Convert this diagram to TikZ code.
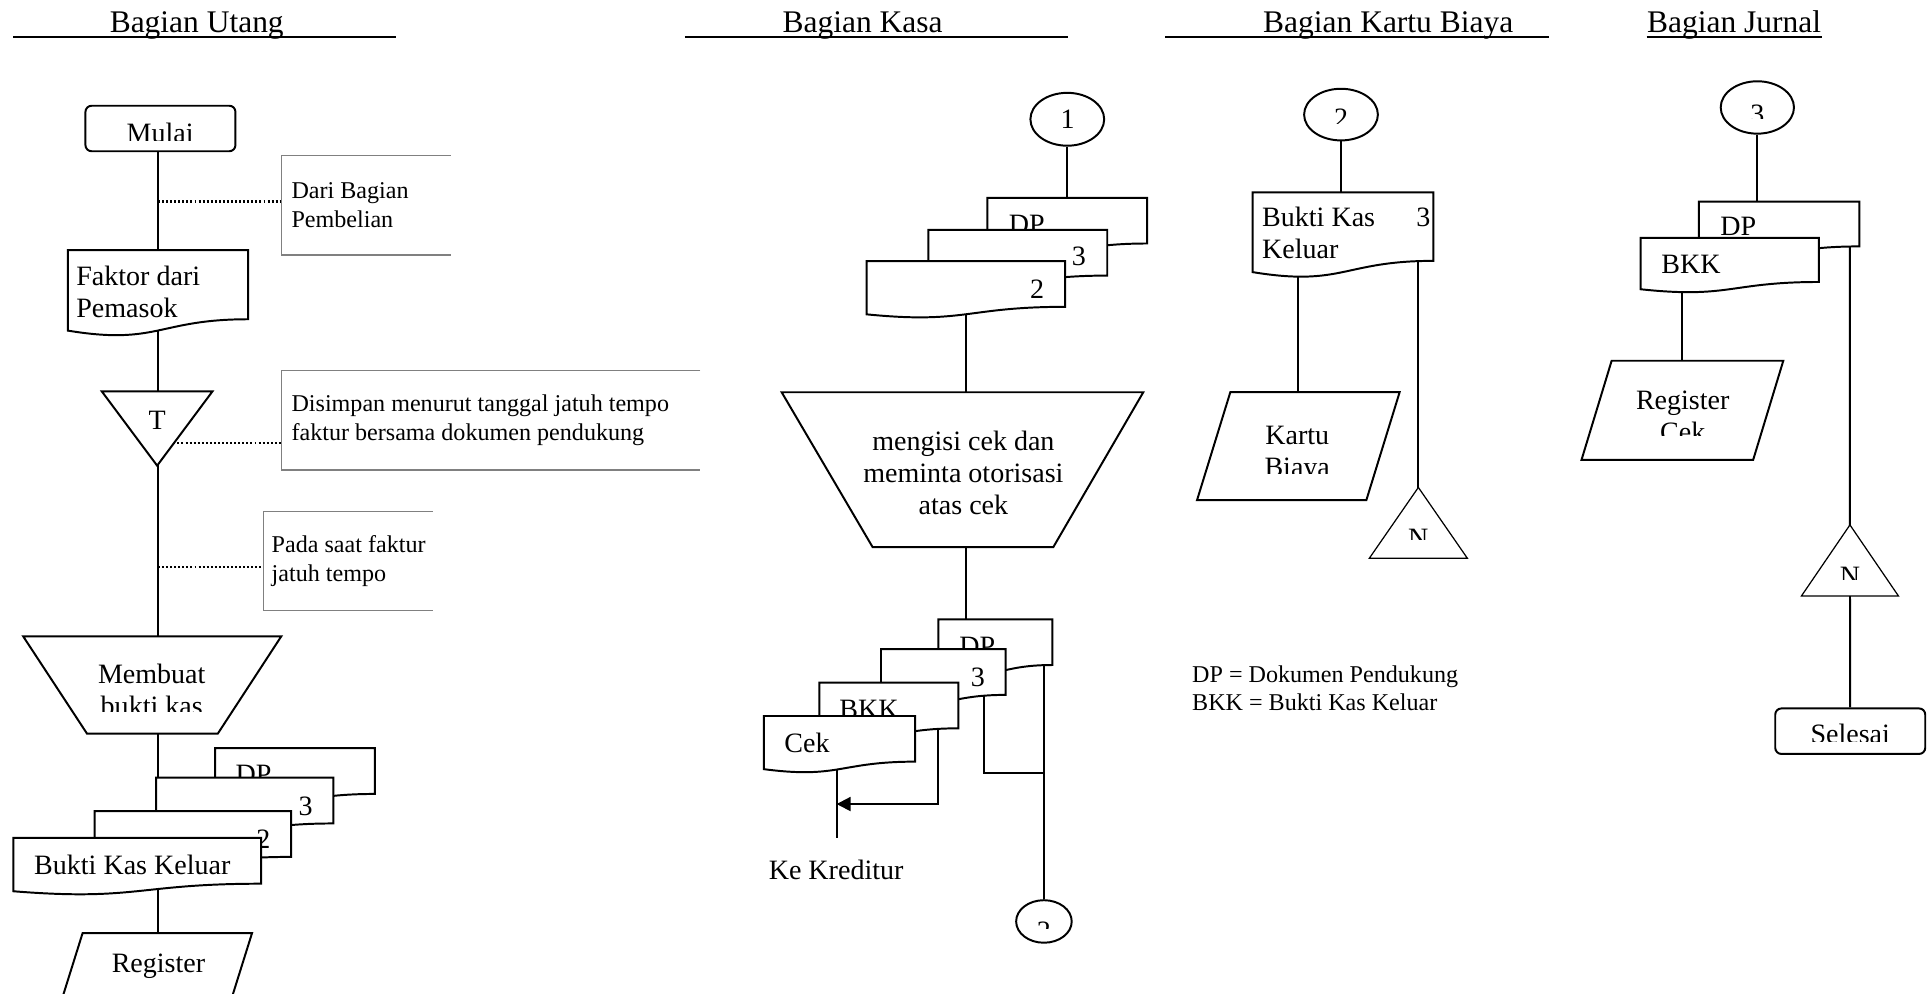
\documentclass[tikz,border=0pt]{standalone}
\usepackage{fontspec}
\setmainfont{Liberation Serif}
\usetikzlibrary{shapes.geometric,arrows.meta,backgrounds}
\tikzset{
    garis/.style={line width=0.8pt},
    tipis/.style={line width=0.5pt},
    teks/.style={inner sep=0pt, font=\fontsize{11.4}{13}\selectfont},
    judul/.style={inner sep=0pt, anchor=base, font=\fontsize{12.8}{15}\selectfont},
    catatan/.style={inner xsep=4pt, inner ysep=0pt, anchor=north west, align=flush left, font=\fontsize{9.8}{12}\selectfont},
    keterangan/.style={inner sep=0pt, anchor=north west, align=flush left, font=\fontsize{9.8}{11.5}\selectfont},
    kurung/.style={draw=black!50, line width=0.5pt},
    titik/.style={line width=1pt, dash pattern=on 0.8pt off 0.85pt},
    terminal/.style={draw, garis, rounded corners=2.5pt, fill=white, inner sep=0pt, minimum width=61pt, minimum height=18.5pt},
    konektor/.style 2 args={draw, garis, ellipse, fill=white, inner sep=0pt, minimum width=#1, minimum height=#2},
}
% dokumen: nama, x, y atas, lebar, tinggi
\newcommand{\dokumen}[5]{%
    \draw[garis, fill=white] (#2,#3) -- ({#2+#4},#3) -- ({#2+#4},{#3+0.802*#5})
        .. controls ({#2+0.5*#4},{#3+0.802*#5}) and ({#2+0.5*#4},{#3+1.107*#5}) .. (#2,{#3+0.934*#5}) -- cycle;
    \coordinate (#1) at ({#2+0.5*#4},{#3+0.4*#5});}
% trapesium: nama, xkiri atas, xkanan atas, y atas, xkiri bawah, xkanan bawah, y bawah
\newcommand{\trapesium}[7]{%
    \draw[garis, fill=white] (#2,#4) -- (#3,#4) -- (#6,#7) -- (#5,#7) -- cycle;
    \coordinate (#1) at ({(#2+#3+#5+#6)/4},{(#4+#7)/2});}
% jajar genjang: nama, xkiri atas, xkanan atas, y atas, geser, y bawah
\newcommand{\jajar}[6]{%
    \draw[garis, fill=white] (#2,#4) -- (#3,#4) -- ({#3-#5},#6) -- ({#2-#5},#6) -- cycle;
    \coordinate (#1) at ({(#2+#3-#5)/2},{(#4+#6)/2});}
% segitiga: nama, x puncak, y puncak, setengah alas, y alas
\newcommand{\segitiga}[6][garis]{%
    \draw[#1, fill=white] (#3,#4) -- ({#3+#5},#6) -- ({#3-#5},#6) -- cycle;
    \coordinate (#2) at (#3,{(#4+#6)/2});}
\newcommand{\potong}[2]{\begin{scope}\clip (0,0) rectangle (1568,#1);#2\end{scope}}

\begin{document}
\begin{tikzpicture}[x=0.5pt,y=-0.5pt]
\useasboundingbox (0,0) rectangle (1568,808);
\clip (0,0) rectangle (1568,808);

% judul kolom
\node[judul] (hUtang) at (160,26.5) {Bagian Utang};
\node[judul] (hKasa) at (701.5,26.5) {Bagian Kasa};
\node[judul] (hKartu) at (1129,26.5) {Bagian Kartu Biaya};
\node[judul] (hJurnal) at (1410.3,26.5) {Bagian Jurnal};
\coordinate (atas) at (0,30);
\draw[garis] (10.9,30) -- (322.3,30);
\draw[garis] (557,30) -- (868.8,30);
\draw[garis] (947.5,30) -- (1260,30);
\draw[garis] (hJurnal.west |- atas) -- (hJurnal.east |- atas);

% Bagian Utang
\node[terminal] (mulai) at (130.5,104.5) {};
\potong{114.4}{\node[teks, anchor=base] (mulaiT) at (130.3,115.9) {Mulai};}
\coordinate (ujungD) at (366.6,0);
\node[catatan, minimum height=39.9pt] (dari) at (228.7,126.7) {Dari Bagian\\Pembelian};
\draw[kurung] (ujungD |- dari.north west) -- (dari.north west) -- (dari.south west) -- (ujungD |- dari.south west);
\dokumen{faktur}{55.2}{203.5}{146.6}{70}
\node[teks, anchor=north west, align=left] (fakturT) at (61.7,216.3) {Faktor dari\\Pemasok};
\segitiga{simpanT}{127.8}{378.7}{45}{318.3}
\node[teks, anchor=base] (tT) at (127.8,349.5) {T};
\coordinate (ujungS) at (569.5,0);
\node[catatan, minimum height=39.95pt] (simpan) at (228.7,301.6) {Disimpan menurut tanggal jatuh tempo\\faktur bersama dokumen pendukung};
\draw[kurung] (ujungS |- simpan.north west) -- (simpan.north west) -- (simpan.south west) -- (ujungS |- simpan.south west);
\coordinate (ujungP) at (352,0);
\node[catatan, inner xsep=3.2pt, minimum height=40.1pt] (pada) at (214.2,415.7) {Pada saat faktur\\jatuh tempo};
\draw[kurung] (ujungP |- pada.north west) -- (pada.north west) -- (pada.south west) -- (ujungP |- pada.south west);
\trapesium{buatBKK}{18.9}{228.7}{517.6}{70.8}{177.1}{596.7}
\potong{578.4}{\node[teks, anchor=north, align=center] (buatT) at (123.4,539.3) {Membuat\\bukti kas};}
\dokumen{dpU}{175}{608.4}{129.9}{46.5}
\node[teks, anchor=base] (dpUT) at (206.2,637) {DP};
\dokumen{tigaU}{127}{632.4}{144.1}{46.5}
\node[teks, anchor=base] (tigaUT) at (248.6,663) {3};
\dokumen{duaU}{77}{659.6}{159.7}{46.5}
\node[teks, anchor=base] (duaUT) at (214.2,690) {2};
\dokumen{bkkU}{10.9}{681.4}{201.4}{46.5}
\node[teks, anchor=base] (bkkUT) at (107.6,711) {Bukti Kas Keluar};
\jajar{regU}{67.2}{205}{758.8}{27}{845}
\node[teks, anchor=base] (regUT) at (128.9,791) {Register};

% Bagian Kasa
\node[konektor={30pt}{21.5pt}] (satu) at (868,97) {};
\node[teks, anchor=base] (satuT) at (868.3,104.2) {1};
\dokumen{dpK1}{803}{160.9}{130}{46.3}
\node[teks, anchor=base] (dpK1T) at (835,189.5) {DP};
\dokumen{tigaK1}{755}{187}{145.5}{46.3}
\node[teks, anchor=base] (tigaK1T) at (877.5,216.2) {3};
\dokumen{duaK1}{704.8}{212.4}{161.4}{46.3}
\node[teks, anchor=base] (duaK1T) at (843.4,242.4) {2};
\trapesium{isiCek}{635.7}{929.8}{319}{709.7}{856.6}{445}
\node[teks, anchor=north, align=center] (isiCekT) at (783.5,349.9) {mengisi cek dan\\meminta otorisasi\\atas cek};
\dokumen{dpK2}{763.1}{503.7}{92.7}{46.3}
\node[teks, anchor=base] (dpK2T) at (794.8,533) {DP};
\dokumen{tigaK2}{716.5}{528}{101.4}{46.3}
\node[teks, anchor=base] (tigaK2T) at (795.2,558) {3};
\dokumen{bkkK}{666.3}{555.2}{113.1}{46.3}
\node[teks, anchor=base] (bkkKT) at (706.7,584.4) {BKK};
\dokumen{cek}{621.3}{582.3}{122.9}{46.3}
\node[teks, anchor=base] (cekT) at (656.3,612) {Cek};
\coordinate (keKred) at (680.4,681.6);
\coordinate (belok1) at (762.6,653.9);
\coordinate (belok2) at (800.3,628.5);
\node[teks] (kreditur) at (680,707.6) {Ke Kreditur};
\node[konektor={22.6pt}{17.3pt}] (duaK) at (849,749.4) {};
\potong{755}{\node[teks, anchor=base] (duaKT) at (849,764.9) {2};}

% Bagian Kartu Biaya
\node[konektor={30pt}{21pt}] (duaB) at (1090.6,93.2) {};
\potong{100.1}{\node[teks, anchor=base] (duaBT) at (1090.6,104) {2};}
\dokumen{bkkB}{1018.8}{156.5}{146.9}{69.4}
\node[teks, anchor=north west, align=left] (bkkBT) at (1026.1,168.3) {Bukti Kas\\Keluar};
\node[teks, anchor=base] (tigaBT) at (1157.6,184.6) {3};
\jajar{kartu}{1000.6}{1138.3}{318.9}{27.1}{406.8}
\potong{384.9}{\node[teks, anchor=north, align=center] (kartuT) at (1055,345.8) {Kartu\\Biaya};}
\segitiga[tipis]{arsipB}{1153.5}{396.4}{39.85}{454}
\potong{438.7}{\node[teks, anchor=base] (arsipBT) at (1153.5,445.6) {N};}
\node[keterangan] (ket) at (969.2,541) {DP = Dokumen Pendukung\\BKK = Bukti Kas Keluar};

% Bagian Jurnal
\node[konektor={29.8pt}{21.3pt}] (tigaJ) at (1429.2,87.4) {};
\potong{96.3}{\node[teks, anchor=base] (tigaJT) at (1429.2,100.1) {3};}
\dokumen{dpJ}{1381.7}{164}{130.4}{45.4}
\node[teks, anchor=base] (dpJT) at (1413.7,191.4) {DP};
\dokumen{bkkJ}{1334.3}{193.4}{145}{44.8}
\node[teks, anchor=base] (bkkJT) at (1375.2,222.4) {BKK};
\jajar{regJ}{1310.7}{1450.3}{293.4}{24.5}{374}
\potong{354.1}{\node[teks, anchor=north, align=center] (regJT) at (1368.5,317.6) {Register\\Cek};}
\segitiga[tipis]{arsipJ}{1504.5}{426.9}{39.45}{484.7}
\potong{471}{\node[teks, anchor=base] (arsipJT) at (1504.5,475.9) {N};}
\node[terminal] (selesai) at (1504.75,594.65) {};
\potong{603.3}{\node[teks, anchor=base] (selesaiT) at (1504.75,604.8) {Selesai};}

% garis penghubung
\coordinate (tD) at (128.5,164);
\coordinate (tS) at (127.8,360.2);
\coordinate (tP) at (128.5,461.2);
\begin{scope}[on background layer]
\draw[garis] (faktur |- mulai) -- (faktur) -- (faktur |- simpanT) -- (faktur |- buatBKK) -- (faktur |- tigaU);
\draw[garis] (faktur |- bkkU) -- (faktur |- regU);
\draw[titik] (tD) -- (tD -| dari.west);
\draw[titik] (tS) -- (tS -| simpan.west);
\draw[titik] (tP) -- (tP -| pada.west);
\draw[garis] (satu) -- (dpK1);
\draw[garis] (duaK1) -- (duaK1 |- isiCek) -- (duaK1 |- dpK2);
\draw[garis] (keKred |- cek) -- (keKred);
\draw[garis, -{Triangle[length=5.7pt,width=5.7pt]}] (belok1 |- bkkK) -- (belok1) -- (keKred |- belok1);
\draw[garis] (belok2 |- tigaK2) -- (belok2) -- (belok2 -| duaK);
\draw[garis] (duaK |- dpK2) -- (duaK);
\draw[garis] (duaB) -- (duaB |- bkkB);
\draw[garis] (kartu |- bkkB) -- (kartu);
\draw[garis] (arsipB |- bkkB) -- (arsipB);
\draw[garis] (tigaJ) -- (tigaJ |- dpJ);
\draw[garis] (regJ |- bkkJ) -- (regJ);
\draw[garis] (arsipJ |- dpJ) -- (arsipJ) -- (selesai);
\end{scope}
\end{tikzpicture}
\end{document}
